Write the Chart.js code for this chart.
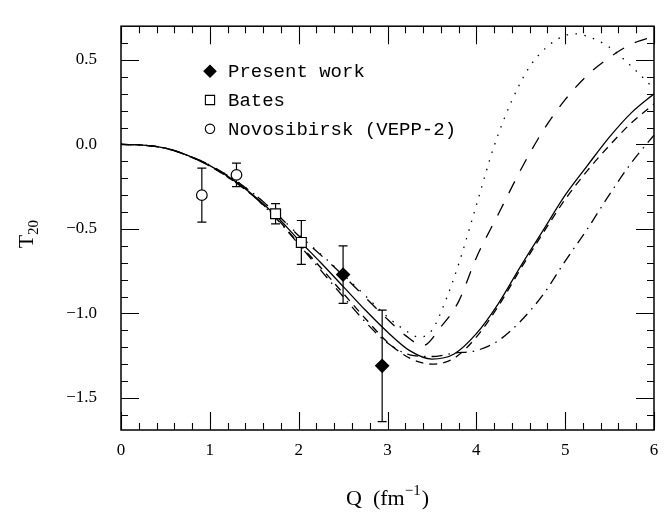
<!DOCTYPE html>
<html>
<head>
<meta charset="utf-8">
<script src="https://cdn.jsdelivr.net/npm/chart.js@4.4.0/dist/chart.umd.min.js"></script>
<style>
  html, body { margin: 0; padding: 0; background: #fff; }
  canvas { display: block; }
</style>
</head>
<body>
<canvas id="t20Chart" width="667" height="519"></canvas>
<script>
// ---------- measured points ----------
const presentQ = [2.50, 2.94];
const presentT = [-0.77, -1.31];
const presentErr = [0.17, 0.33];

const batesQ = [1.74, 2.03];
const batesT = [-0.41, -0.58];
const batesErr = [0.06, 0.13];

const novoQ = [0.91, 1.30];
const novoT = [-0.30, -0.18];
const novoErr = [0.16, 0.07];

// ---------- theory curves ----------
const gridQ = [0, 0.25, 0.5, 0.75, 1, 1.25, 1.5, 1.75, 2, 2.25, 2.5, 2.75, 3, 3.25, 3.5, 3.75, 4, 4.25, 4.5, 4.75, 5, 5.25, 5.5, 5.75, 6];
const solidT = [0, -0.004, -0.022, -0.065, -0.125, -0.205, -0.305, -0.425, -0.565, -0.70, -0.84, -0.98, -1.11, -1.22, -1.27, -1.24, -1.12, -0.94, -0.72, -0.51, -0.30, -0.125, 0.045, 0.19, 0.30];
const shortDashT = [0, -0.004, -0.022, -0.066, -0.128, -0.21, -0.31, -0.435, -0.585, -0.73, -0.88, -1.03, -1.17, -1.265, -1.30, -1.265, -1.14, -0.955, -0.735, -0.525, -0.325, -0.155, -0.005, 0.13, 0.24];
const dashDotT = [0, -0.004, -0.022, -0.066, -0.128, -0.21, -0.31, -0.44, -0.59, -0.745, -0.90, -1.05, -1.175, -1.245, -1.255, -1.235, -1.22, -1.16, -1.045, -0.89, -0.69, -0.50, -0.295, -0.105, 0.055];

const longDashQ = [0, 0.25, 0.5, 0.75, 1, 1.25, 1.5, 1.75, 2, 2.25, 2.5, 2.75, 3, 3.2, 3.4, 3.6, 3.8, 4, 4.25, 4.5, 4.75, 5, 5.25, 5.5, 5.75, 6];
const longDashT = [0, -0.004, -0.022, -0.064, -0.122, -0.2, -0.295, -0.41, -0.54, -0.655, -0.775, -0.905, -1.035, -1.13, -1.19, -1.08, -0.93, -0.67, -0.41, -0.15, 0.08, 0.265, 0.41, 0.515, 0.595, 0.64];

const dottedQ = [0, 0.25, 0.5, 0.75, 1, 1.25, 1.5, 1.75, 2, 2.25, 2.5, 2.75, 3, 3.2, 3.35, 3.5, 3.65, 3.8, 4, 4.2, 4.4, 4.6, 4.8, 5, 5.1, 5.25, 5.5, 5.75, 6];
const dottedT = [0, -0.004, -0.022, -0.064, -0.122, -0.2, -0.295, -0.41, -0.535, -0.65, -0.77, -0.895, -1.02, -1.10, -1.14, -1.10, -0.93, -0.71, -0.36, -0.01, 0.26, 0.46, 0.58, 0.645, 0.655, 0.64, 0.575, 0.46, 0.33];

// ---------- axes ----------
const xTicks = [0, 1, 2, 3, 4, 5, 6];
const yTicks = [-1.5, -1.0, -0.5, 0.0, 0.5];
const xRange = [0, 6];
const yRange = [-1.69, 0.70];

const legendItems = [
  { text: 'Present work', style: 'rectRot', radius: 6, fill: '#000' },
  { text: 'Bates', style: 'rect', radius: 6.5, fill: '#fff' },
  { text: 'Novosibirsk (VEPP-2)', style: 'circle', radius: 4.7, fill: '#fff' },
];

const pts = (qs, ts) => qs.map((q, i) => ({ x: q, y: ts[i] }));

const curve = (label, qs, ts, dash) => ({
  label,
  data: pts(qs, ts),
  showLine: true,
  borderColor: '#000',
  borderWidth: 1.3,
  borderDash: dash,
  borderCapStyle: 'butt',
  pointRadius: 0,
  fill: false,
  cubicInterpolationMode: 'monotone',
});

const marker = (label, qs, ts, errs, style, radius, fill) => ({
  label,
  data: pts(qs, ts),
  errors: errs,
  showLine: false,
  pointStyle: style,
  pointRadius: radius,
  pointBackgroundColor: fill,
  pointBorderColor: '#000',
  pointBorderWidth: 1.2,
});

// error bars, frame, inward ticks, legend, axis titles
const decorations = {
  id: 'decorations',
  beforeDatasetsDraw(chart) {
    const { ctx } = chart;
    const xs = chart.scales.x, ys = chart.scales.y;
    ctx.save();
    ctx.strokeStyle = '#000';
    ctx.lineWidth = 1.2;
    chart.data.datasets.forEach(ds => {
      if (!ds.errors) return;
      ds.data.forEach((p, i) => {
        const px = xs.getPixelForValue(p.x);
        const top = ys.getPixelForValue(p.y + ds.errors[i]);
        const bot = ys.getPixelForValue(p.y - ds.errors[i]);
        ctx.beginPath();
        ctx.moveTo(px, top); ctx.lineTo(px, bot);
        ctx.moveTo(px - 4.5, top); ctx.lineTo(px + 4.5, top);
        ctx.moveTo(px - 4.5, bot); ctx.lineTo(px + 4.5, bot);
        ctx.stroke();
      });
    });
    ctx.restore();
  },
  afterDraw(chart) {
    const { ctx, chartArea: a } = chart;
    const xs = chart.scales.x, ys = chart.scales.y;
    ctx.save();
    ctx.strokeStyle = '#000';
    ctx.lineWidth = 1.5;
    ctx.strokeRect(a.left, a.top, a.right - a.left, a.bottom - a.top);

    ctx.lineWidth = 1.1;
    ctx.beginPath();
    for (let k = 0; k <= 30; k++) {
      const v = k * 0.2;
      const major = k % 5 === 0;
      const len = major ? 18 : 7;
      const px = Math.round(xs.getPixelForValue(v)) + 0.5;
      ctx.moveTo(px, a.bottom); ctx.lineTo(px, a.bottom - len);
      ctx.moveTo(px, a.top); ctx.lineTo(px, a.top + len);
    }
    for (let k = -16; k <= 6; k++) {
      const v = k * 0.1;
      const major = k % 5 === 0;
      const len = major ? 18 : 7;
      const py = Math.round(ys.getPixelForValue(v)) + 0.5;
      ctx.moveTo(a.left, py); ctx.lineTo(a.left + len, py);
      ctx.moveTo(a.right, py); ctx.lineTo(a.right - len, py);
    }
    ctx.stroke();

    // legend inside the plot
    const lx = a.left + 89, ly = a.top + 45, step = 28.8;
    legendItems.forEach((it, i) => {
      const y = ly + i * step;
      ctx.fillStyle = it.fill;
      ctx.strokeStyle = '#000';
      Chart.helpers.drawPoint(ctx, { pointStyle: it.style, radius: it.radius, borderWidth: 1.2 }, lx, y);
      ctx.fillStyle = '#000';
      ctx.font = '19px "Liberation Mono", monospace';
      ctx.textBaseline = 'middle';
      ctx.textAlign = 'left';
      ctx.fillText(it.text, lx + 18, y + 1);
    });

    // x title: Q (fm^-1)
    ctx.fillStyle = '#000';
    ctx.textBaseline = 'alphabetic';
    const cx = (a.left + a.right) / 2;
    const main = 'Q  (fm';
    ctx.font = '22px "Liberation Serif", serif';
    const wMain = ctx.measureText(main).width;
    const wClose = ctx.measureText(')').width;
    ctx.font = '15px "Liberation Serif", serif';
    const sup = '\u22121';
    const wSup = ctx.measureText(sup).width;
    let tx = cx - (wMain + wSup + wClose + 1) / 2;
    const base = 505;
    ctx.font = '22px "Liberation Serif", serif';
    ctx.fillText(main, tx, base);
    tx += wMain;
    ctx.font = '15px "Liberation Serif", serif';
    ctx.fillText(sup, tx, base - 10);
    tx += wSup + 1;
    ctx.font = '22px "Liberation Serif", serif';
    ctx.fillText(')', tx, base);

    // y title: T_20, rotated
    ctx.translate(33, (a.top + a.bottom) / 2 + 6);
    ctx.rotate(-Math.PI / 2);
    ctx.font = '22px "Liberation Serif", serif';
    const wT = ctx.measureText('T').width;
    ctx.font = '15px "Liberation Serif", serif';
    const wSub = ctx.measureText('20').width;
    const sx = -(wT + wSub) / 2;
    ctx.font = '22px "Liberation Serif", serif';
    ctx.fillText('T', sx, 0);
    ctx.font = '15px "Liberation Serif", serif';
    ctx.fillText('20', sx + wT, 5);
    ctx.restore();
  }
};

const tickFont = { family: '"Liberation Serif", serif', size: 17 };

new Chart(document.getElementById('t20Chart'), {
  type: 'scatter',
  data: {
    datasets: [
      marker('Present work', presentQ, presentT, presentErr, 'rectRot', 6.5, '#000'),
      marker('Bates', batesQ, batesT, batesErr, 'rect', 7, '#fff'),
      marker('Novosibirsk (VEPP-2)', novoQ, novoT, novoErr, 'circle', 5.3, '#fff'),
      curve('solid', gridQ, solidT, []),
      curve('short dash', gridQ, shortDashT, [8, 6]),
      curve('long dash', longDashQ, longDashT, [13, 12]),
      curve('dotted', dottedQ, dottedT, [1.5, 7.5]),
      curve('dash dot', gridQ, dashDotT, [11, 6, 1.5, 6]),
    ]
  },
  options: {
    responsive: false,
    animation: false,
    layout: { padding: { left: 0, right: 13, top: 12, bottom: 0 } },
    plugins: { legend: { display: false }, tooltip: { enabled: false } },
    scales: {
      x: {
        type: 'linear',
        min: xRange[0], max: xRange[1],
        grid: { display: false },
        border: { display: false },
        afterBuildTicks: s => { s.ticks = xTicks.map(v => ({ value: v })); },
        afterFit: s => { s.height = 89; },
        ticks: { color: '#000', font: tickFont, padding: 2, maxRotation: 0, callback: v => String(v) },
      },
      y: {
        type: 'linear',
        min: yRange[0], max: yRange[1],
        grid: { display: false },
        border: { display: false },
        afterBuildTicks: s => { s.ticks = yTicks.map(v => ({ value: v })); },
        afterFit: s => { s.width = 121; },
        ticks: {
          color: '#000', font: tickFont, padding: 16,
          callback: v => (v < 0 ? '\u2212' : '') + Math.abs(v).toFixed(1),
        },
      },
    },
  },
  plugins: [decorations],
});
</script>
</body>
</html>
